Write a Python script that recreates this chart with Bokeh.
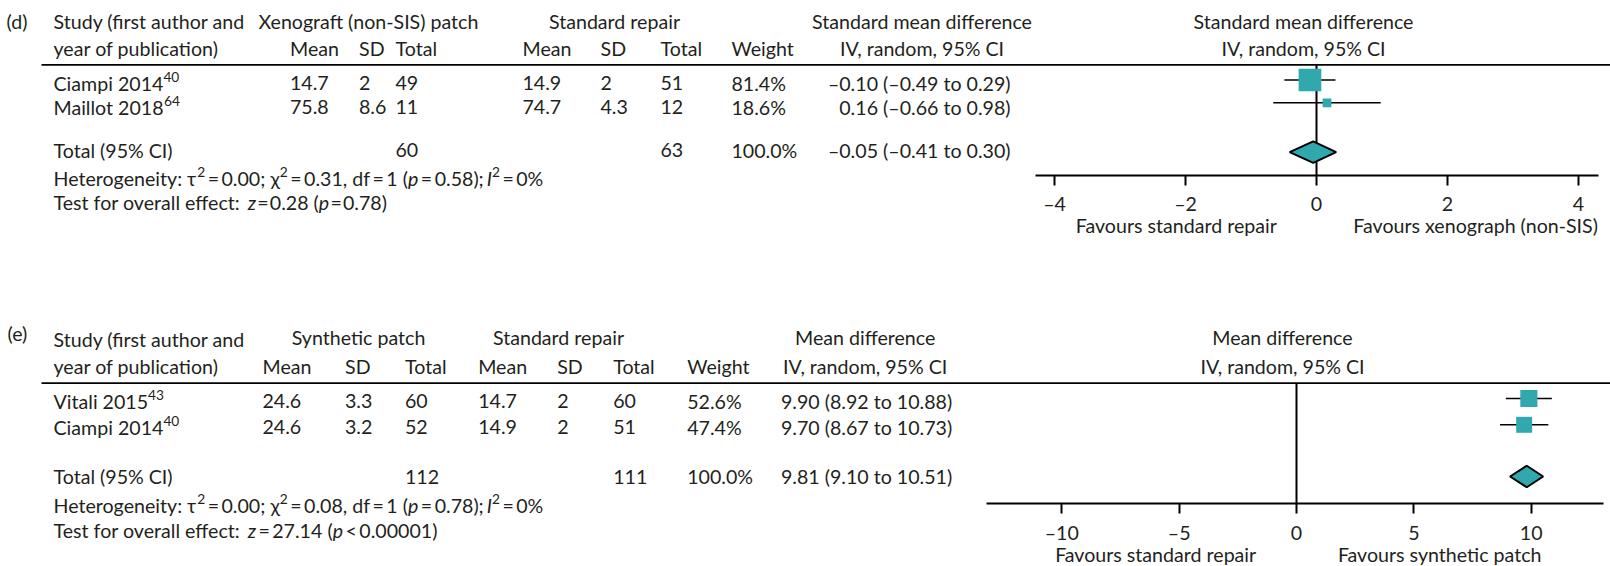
import os, glob, struct, subprocess
from bokeh.plotting import figure
from bokeh.models import Range1d, FixedTicker, LinearAxis, ColumnDataSource, Grid
from bokeh.embed import file_html
from bokeh.resources import INLINE
from bokeh.core.properties import value

# ======================= DATA =======================
# panel (d): xenograft (non-SIS) patch vs standard repair (SMD)
d_studies = ["Ciampi 2014", "Maillot 2018"]
d_refs = ["40", "64"]
d_exp_mean = [14.7, 75.8]
d_exp_sd = [2, 8.6]
d_exp_n = [49, 11]
d_ctl_mean = [14.9, 74.7]
d_ctl_sd = [2, 4.3]
d_ctl_n = [51, 12]
d_weight = [81.4, 18.6]
d_est = [-0.10, 0.16]
d_lo = [-0.49, -0.66]
d_hi = [0.29, 0.98]
d_total_n = [60, 63]
d_total_weight = 100.0
d_total = [-0.05, -0.41, 0.30]          # estimate, lower, upper
d_ticks = [-4, -2, 0, 2, 4]
d_het = ["0.00", "0.31", "1", "0.58", "0%"]   # tau2, chi2, df, p, I2
d_test = ["0.28", "=", "0.78"]                # z, relation, p

# panel (e): synthetic patch vs standard repair (MD)
e_studies = ["Vitali 2015", "Ciampi 2014"]
e_refs = ["43", "40"]
e_exp_mean = [24.6, 24.6]
e_exp_sd = [3.3, 3.2]
e_exp_n = [60, 52]
e_ctl_mean = [14.7, 14.9]
e_ctl_sd = [2, 2]
e_ctl_n = [60, 51]
e_weight = [52.6, 47.4]
e_est = [9.90, 9.70]
e_lo = [8.92, 8.67]
e_hi = [10.88, 10.73]
e_total_n = [112, 111]
e_total_weight = 100.0
e_total = [9.81, 9.10, 10.51]
e_ticks = [-10, -5, 0, 5, 10]
e_het = ["0.00", "0.08", "1", "0.78", "0%"]
e_test = ["27.14", "<", "0.00001"]

# ======================= FONT METRICS =======================
def find_font(pattern, names):
    try:
        out = subprocess.run(["fc-match", "-f", "%{file}", pattern], capture_output=True,
                             text=True, timeout=5).stdout.strip()
        if out and os.path.exists(out) and "lato" in out.lower():
            return out
    except Exception:
        pass
    for root in ["/usr/share/fonts", "/usr/local/share/fonts",
                 os.path.expanduser("~/.fonts"), os.path.expanduser("~/.local/share/fonts")]:
        for n in names:
            hits = glob.glob(os.path.join(root, "**", n), recursive=True)
            if hits:
                return hits[0]
    return None


class Metrics:
    def __init__(self, path):
        self.ok = False
        if not path:
            return
        try:
            data = open(path, "rb").read()
            off0 = struct.unpack(">I", data[12:16])[0] if data[:4] == b"ttcf" else 0
            num = struct.unpack(">H", data[off0 + 4:off0 + 6])[0]
            tables = {}
            for i in range(num):
                rec = data[off0 + 12 + 16 * i: off0 + 28 + 16 * i]
                tag = rec[:4].decode("latin1")
                _, o, l = struct.unpack(">III", rec[4:16])
                tables[tag] = (o, l)
            ho = tables["head"][0]
            self.upem = struct.unpack(">H", data[ho + 18:ho + 20])[0]
            hh = tables["hhea"][0]
            nhm = struct.unpack(">H", data[hh + 34:hh + 36])[0]
            mo = tables["hmtx"][0]
            self.adv = [struct.unpack(">H", data[mo + 4 * i:mo + 4 * i + 2])[0] for i in range(nhm)]
            co = tables["cmap"][0]
            n = struct.unpack(">H", data[co + 2:co + 4])[0]
            sub4 = sub12 = None
            for i in range(n):
                pid, eid, so = struct.unpack(">HHI", data[co + 4 + 8 * i: co + 12 + 8 * i])
                fmt = struct.unpack(">H", data[co + so: co + so + 2])[0]
                if fmt == 12 and sub12 is None:
                    sub12 = co + so
                if fmt == 4 and sub4 is None and (pid == 0 or (pid == 3 and eid == 1)):
                    sub4 = co + so
            self.cmap = {}
            if sub12 is not None:
                o = sub12
                ng = struct.unpack(">I", data[o + 12:o + 16])[0]
                for i in range(ng):
                    s, e, g = struct.unpack(">III", data[o + 16 + 12 * i: o + 28 + 12 * i])
                    if s > 0xFFFF:
                        continue
                    for c in range(s, min(e, 0xFFFF) + 1):
                        self.cmap[c] = g + (c - s)
            elif sub4 is not None:
                o = sub4
                segx2 = struct.unpack(">H", data[o + 6:o + 8])[0]
                seg = segx2 // 2
                ends = struct.unpack(">%dH" % seg, data[o + 14:o + 14 + segx2])
                starts = struct.unpack(">%dH" % seg, data[o + 16 + segx2:o + 16 + 2 * segx2])
                deltas = struct.unpack(">%dh" % seg, data[o + 16 + 2 * segx2:o + 16 + 3 * segx2])
                rp = o + 16 + 3 * segx2
                roffs = struct.unpack(">%dH" % seg, data[rp:rp + segx2])
                for i in range(seg):
                    if starts[i] == 0xFFFF:
                        continue
                    for c in range(starts[i], ends[i] + 1):
                        if roffs[i] == 0:
                            g = (c + deltas[i]) & 0xFFFF
                        else:
                            a = rp + 2 * i + roffs[i] + 2 * (c - starts[i])
                            g = struct.unpack(">H", data[a:a + 2])[0]
                            if g:
                                g = (g + deltas[i]) & 0xFFFF
                        self.cmap[c] = g
            self.ok = len(self.cmap) > 50
        except Exception:
            self.ok = False

    def width(self, s):
        if not self.ok:
            return 0.5 * len(s)
        w = 0.0
        for ch in s:
            g = self.cmap.get(ord(ch), 0)
            if g == 0:
                w += 0.2 if ch in "\u2009\u200a" else 0.5
                continue
            a = self.adv[g] if g < len(self.adv) else self.adv[-1]
            w += a / self.upem
        return w


MR = Metrics(find_font("Lato:style=Regular", ["Lato-Regular.ttf", "Lato-Reg.ttf"]))
MI = Metrics(find_font("Lato:style=Italic", ["Lato-Italic.ttf"]))
if not MI.ok:
    MI = MR

FS = 20.0
if MR.ok:
    samples = [("Favours standard repair", 206.0), ("Favours synthetic patch", 206.7),
               ("Favours xenograph (non-SIS)", 246.0), ("Standard mean difference", 224.0),
               ("IV, random, 95% CI", 163.0)]
    est = [w / MR.width(s) for s, w in samples]
    FS = max(16.0, min(23.0, sum(est) / len(est)))

# ======================= STYLE =======================
FONT = "Lato"
TXT = "#231f20"
TEAL = "#2fa9ae"
T = "\u2009"
SUP_SCALE = 0.7
SUP_RAISE = 0.30
TEXT_DY = -7.5
ITALIC_PULL = 2.0
W, H = 1610, 566


def dash(s):
    return s.replace("-", "\u2013")


def fnum(v):
    return f"{v:g}"


def fci(e, l, h):
    return dash(f"{e:.2f} ({l:.2f} to {h:.2f})")


def base(yc):
    return yc + 0.358 * FS + TEXT_DY


def txt(p, x, yc, s, align="left", size=None, style="normal", baseline_y=None):
    y = baseline_y if baseline_y is not None else base(yc)
    p.text(x=[x], y=[y], text=[s], text_font=value(FONT),
           text_font_size=value(f"{(size or FS):.2f}px"), text_align=align,
           text_baseline="alphabetic", text_font_style=style, text_color=TXT)


def rich(p, x, yc, segs):
    b = base(yc)
    cx = x
    prev = ""
    for s, st in segs:
        italic = "i" in st
        sup = "s" in st
        fs = FS * SUP_SCALE if sup else FS
        y = b - (SUP_RAISE * FS if sup else 0)
        if italic and prev.endswith(" "):
            cx -= ITALIC_PULL
        txt(p, cx, None, s, size=fs, style="italic" if italic else "normal", baseline_y=y)
        cx += (MI if italic else MR).width(s) * fs
        prev = s


def table(p, lay, studies, refs, em, esd, en, cm, csd, cn, wts, est, lo, hi,
          tot_n, tot_w, tot, het, test, g1, g2, cih):
    txt(p, lay["labx"], lay["lab"], lay["letter"])
    txt(p, 53, lay["study1"], "Study (first author and")
    txt(p, 53, lay["h2"], "year of publication)")
    txt(p, lay["g1x"], lay["h1"], g1, align="center")
    txt(p, lay["g2x"], lay["h1"], g2, align="center")
    for x, s in zip(lay["cols"], ["Mean", "SD", "Total", "Mean", "SD", "Total"]):
        txt(p, x, lay["h2"], s)
    txt(p, lay["wx"], lay["h2"], "Weight")
    txt(p, lay["cihx"], lay["h1"], cih, align="center")
    txt(p, lay["cihx"], lay["h2"], "IV, random, 95% CI", align="center")
    # header rule across table and plot
    p.segment(x0=[41], x1=[W], y0=[lay["hline"]], y1=[lay["hline"]],
              line_color="black", line_width=1.8)
    for i, yc in enumerate(lay["rows"]):
        rich(p, 53, yc, [(studies[i], ""), (refs[i], "s")])
        vals = [fnum(em[i]), fnum(esd[i]), str(en[i]), fnum(cm[i]), fnum(csd[i]), str(cn[i])]
        for x, s in zip(lay["cols"], vals):
            txt(p, x, yc, s)
        txt(p, lay["wx"], yc, f"{wts[i]:.1f}%")
        txt(p, lay["cix"], yc, fci(est[i], lo[i], hi[i]), align="right")
    yt = lay["tot"]
    txt(p, 53, yt, "Total (95% CI)")
    txt(p, lay["cols"][2], yt, str(tot_n[0]))
    txt(p, lay["cols"][5], yt, str(tot_n[1]))
    txt(p, lay["wx"], yt, f"{tot_w:.1f}%")
    txt(p, lay["cix"], yt, fci(*tot), align="right")
    tau2, chi2, df, pp, i2 = het
    rich(p, 53, lay["het"], [("Heterogeneity: \u03c4", ""), ("2", "s"),
                             (f"{T}={T}{tau2}; \u03c7", ""), ("2", "s"),
                             (f"{T}={T}{chi2}, df{T}={T}{df} (", ""), ("p", "i"),
                             (f"{T}={T}{pp}); ", ""), ("I", "i"), ("2", "s"),
                             (f"{T}={T}{i2}", "")])
    z, rel, pz = test
    sp = lay["tsp"]
    rich(p, 53, lay["test"], [("Test for overall effect: ", ""), ("z", "i"),
                              (f"{sp}={sp}{z} (", ""), ("p", "i"),
                              (f"{sp}{rel}{sp}{pz})", "")])


def forest(p, lay, rn, est, lo, hi, wts, tot, head1, ticks, fav_pos, fav_txt):
    src = ColumnDataSource(dict(est=est, lo=lo, hi=hi, y=lay["marks"],
                                size=[1.3 * w ** 0.65 for w in wts]))
    p.segment(x0=[0], x1=[0], y0=[lay["hline"]], y1=[lay["axis"]], line_color="black",
              line_width=2, x_range_name=rn)
    p.segment(x0="lo", x1="hi", y0="y", y1="y", source=src, line_color="black",
              line_width=1.6, x_range_name=rn)
    p.scatter(x="est", y="y", size="size", marker="square", source=src,
              fill_color=TEAL, line_color=None, x_range_name=rn)
    e, l, h = tot
    yc, hh = lay["totm"], 21.5
    p.patch(x=[l, e, h, e], y=[yc, yc - hh / 2, yc, yc + hh / 2], fill_color=TEAL,
            line_color="black", line_width=2, x_range_name=rn)
    txt(p, lay["rhx"], lay["h1"], head1, align="center")
    txt(p, lay["rhx"], lay["h2"], "IV, random, 95% CI", align="center")

    ax = LinearAxis(x_range_name=rn, fixed_location=lay["axis"], bounds=lay["bounds"],
                    ticker=FixedTicker(ticks=ticks),
                    major_label_overrides={t: dash(str(t)) for t in ticks},
                    major_tick_out=10, major_tick_in=0, minor_tick_out=0, minor_tick_in=0,
                    axis_line_width=2, axis_line_color="black",
                    major_tick_line_width=2, major_tick_line_color="black",
                    major_label_standoff=lay["standoff"], major_label_text_font=FONT,
                    major_label_text_font_size=f"{FS:.2f}px", major_label_text_color=TXT)
    p.add_layout(ax, "below")
    fav = LinearAxis(x_range_name=rn, fixed_location=lay["axis"],
                     ticker=FixedTicker(ticks=fav_pos),
                     major_label_overrides={t: s for t, s in zip(fav_pos, fav_txt)},
                     axis_line_color=None, major_tick_line_color=None, minor_tick_line_color=None,
                     major_tick_out=0, major_tick_in=0, minor_tick_out=0, minor_tick_in=0,
                     major_label_standoff=lay["fav_standoff"], major_label_text_font=FONT,
                     major_label_text_font_size=f"{FS:.2f}px", major_label_text_color=TXT)
    p.add_layout(fav, "below")


# ======================= LAYOUT (pixel positions) =======================
D = dict(letter="(d)", labx=6, lab=21.5, study1=21.5, h1=21.5, h2=48.5, hline=64.3,
         rows=[83.0, 107.0], marks=[79.5, 102.3], tot=150.0, totm=151.7, het=178.0, test=202.0,
         axis=175.0, bounds=(-4.29, 4.305), standoff=6, fav_standoff=38,
         g1x=368, g2x=614, cols=[289.5, 358.5, 395, 522, 600, 660], wx=731, cix=1010,
         cihx=921.5, rhx=1303, tsp="\u200a")
E = dict(letter="(e)", labx=7, lab=333.5, study1=339.5, h1=337.5, h2=366.5, hline=382.7,
         rows=[401.0, 427.0], marks=[398.0, 424.3], tot=476.5, totm=476.0, het=505.0, test=530.5,
         axis=502.7, bounds=(-13.21, 13.08), standoff=8, fav_standoff=40,
         g1x=358, g2x=558, cols=[262, 344.5, 404.5, 477.7, 556.7, 612.7], wx=686.7,
         cix=951.7, cihx=864.7, rhx=1282, tsp=T)

D_ZERO, D_PX = 1316.0, 65.5      # pixel of 0 and pixels per unit, panel (d)
E_ZERO, E_PX = 1296.0, 23.47     # panel (e)

p = figure(width=W, height=H, x_range=Range1d(0, W), y_range=Range1d(H, 0),
           x_axis_location=None, y_axis_location=None, min_border=0,
           output_backend="svg", toolbar_location=None)
p.extra_x_ranges = {
    "fd": Range1d(-D_ZERO / D_PX, (W - D_ZERO) / D_PX),
    "fe": Range1d(-E_ZERO / E_PX, (W - E_ZERO) / E_PX),
}
p.background_fill_color = "white"
p.border_fill_color = "white"
p.outline_line_color = None
for r in list(p.center):
    if isinstance(r, Grid):
        r.visible = False

table(p, D, d_studies, d_refs, d_exp_mean, d_exp_sd, d_exp_n, d_ctl_mean, d_ctl_sd, d_ctl_n,
      d_weight, d_est, d_lo, d_hi, d_total_n, d_total_weight, d_total, d_het, d_test,
      "Xenograft (non-SIS) patch", "Standard repair", "Standard mean difference")
forest(p, D, "fd", d_est, d_lo, d_hi, d_weight, d_total, "Standard mean difference",
       d_ticks, [-2.14, 2.43], ["Favours standard repair", "Favours xenograph (non-SIS)"])

table(p, E, e_studies, e_refs, e_exp_mean, e_exp_sd, e_exp_n, e_ctl_mean, e_ctl_sd, e_ctl_n,
      e_weight, e_est, e_lo, e_hi, e_total_n, e_total_weight, e_total, e_het, e_test,
      "Synthetic patch", "Standard repair", "Mean difference")
forest(p, E, "fe", e_est, e_lo, e_hi, e_weight, e_total, "Mean difference",
       e_ticks, [-6.0, 6.1], ["Favours standard repair", "Favours synthetic patch"])

with open("out.html", "w") as f:
    f.write(file_html(p, INLINE))
